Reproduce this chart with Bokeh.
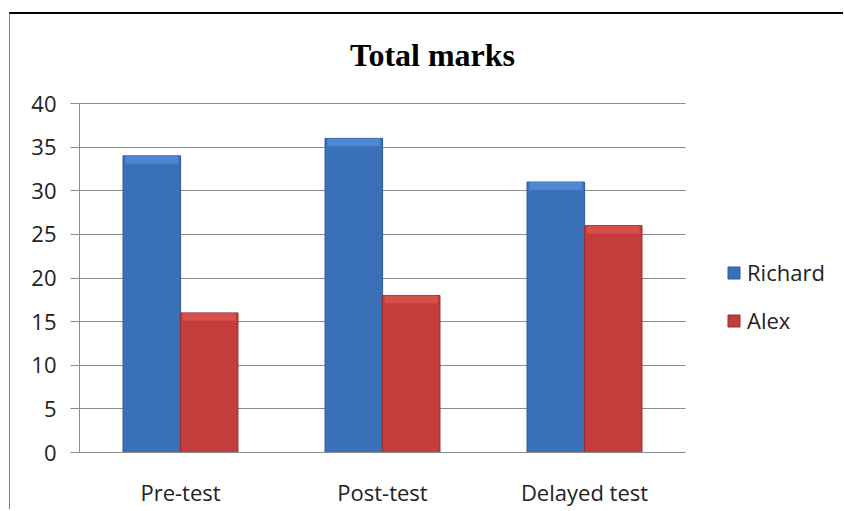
from bokeh.plotting import figure
from bokeh.models import (ColumnDataSource, Legend, LegendItem, Label, Range1d, FixedTicker,
                          BoxAnnotation, Grid)
from bokeh.transform import dodge
from bokeh.embed import file_html
from bokeh.resources import INLINE

categories = ["Pre-test", "Post-test", "Delayed test"]
richard = [34, 36, 31]
alex = [16, 18, 26]
y_ticks = [0, 5, 10, 15, 20, 25, 30, 35, 40]
title_text = "Total marks"

# layout constants (pixels)
W, H = 834, 497
LEFT, BOTTOM = 69, 59
CAT_PX = 202          # width of one category slot
PLOT_H = 349          # height of the 0..40 value span
frame_w = W - LEFT
frame_h = H - BOTTOM
y_max = 40
px_per_unit = PLOT_H / y_max
bevel = 0.9           # height of the lighter top band, in value units

xs = [i + 0.5 for i in range(len(categories))]
src = ColumnDataSource(dict(x=xs, richard=richard, alex=alex,
                            richard_bevel=[v - bevel for v in richard],
                            alex_bevel=[v - bevel for v in alex]))

p = figure(x_range=Range1d(0, frame_w / CAT_PX), y_range=Range1d(0, frame_h / px_per_unit),
           width=W, height=H, output_backend="svg", toolbar_location=None,
           min_border_left=LEFT, min_border_right=0, min_border_top=0, min_border_bottom=BOTTOM)
p.title = None
p.outline_line_color = None
p.background_fill_color = "white"
p.border_fill_color = "white"

bw = 0.285
r1 = p.vbar(x=dodge("x", -0.142), top="richard", bottom=0, width=bw, source=src,
            fill_color="#3a70b8", line_color="#2c5a94", line_width=1)
r2 = p.vbar(x=dodge("x", 0.142), top="alex", bottom=0, width=bw, source=src,
            fill_color="#c23d3b", line_color="#922d2b", line_width=1)
# top bevel highlight
p.vbar(x=dodge("x", -0.142), top="richard", bottom="richard_bevel", width=bw * 0.92,
       source=src, fill_color="#4d88d4", line_color=None)
p.vbar(x=dodge("x", 0.142), top="alex", bottom="alex_bevel", width=bw * 0.92,
       source=src, fill_color="#d64f4c", line_color=None)

p.xgrid.grid_line_color = None
p.ygrid.grid_line_color = "#8c8c8c"
p.ygrid.grid_line_width = 1
p.ygrid.level = "underlay"
if "cross_bounds" in Grid.properties():
    p.ygrid.cross_bounds = (0, len(categories))
else:
    p.add_layout(BoxAnnotation(left=len(categories), fill_color="white", fill_alpha=1,
                               line_color=None, level="underlay"))

p.yaxis.ticker = FixedTicker(ticks=y_ticks)
p.yaxis.bounds = (0, y_max)
p.yaxis.axis_line_color = "#8c8c8c"
p.yaxis.major_tick_line_color = "#8c8c8c"
p.yaxis.major_tick_out = 9
p.yaxis.major_tick_in = 0
p.yaxis.minor_tick_line_color = None
p.yaxis.major_label_standoff = 14
p.yaxis.major_label_text_font = "Open Sans"
p.yaxis.major_label_text_font_size = "22px"
p.yaxis.major_label_text_color = "#222222"

p.xaxis.ticker = FixedTicker(ticks=xs)
p.xaxis.major_label_overrides = {x: c for x, c in zip(xs, categories)}
p.xaxis.bounds = (0, len(categories))
p.xaxis.axis_line_color = "#8c8c8c"
p.xaxis.major_tick_line_color = None
p.xaxis.minor_tick_line_color = None
p.xaxis.major_label_standoff = 18
p.xaxis.major_label_text_font = "Open Sans"
p.xaxis.major_label_text_font_size = "22px"
p.xaxis.major_label_text_color = "#222222"

title = Label(x=353, y=398, x_units="screen", y_units="screen", text=title_text,
              text_align="center", text_baseline="alphabetic",
              text_font="Liberation Serif", text_font_size="32px", text_font_style="bold",
              text_color="black")
p.add_layout(title)

legend = Legend(items=[LegendItem(label="Richard", renderers=[r1]),
                       LegendItem(label="Alex", renderers=[r2])],
                location=(647, 117), orientation="vertical",
                label_text_font="Open Sans", label_text_font_size="22px", label_text_color="#222222",
                glyph_width=15, glyph_height=15, label_standoff=6, spacing=18,
                padding=0, margin=0, border_line_color=None, background_fill_alpha=0)
p.add_layout(legend, "center")

p.styles = {"border-top": "2px solid black", "border-left": "1px solid #808080"}
p.margin = (12, 0, 0, 9)

open("out.html", "w").write(file_html(p, INLINE))
